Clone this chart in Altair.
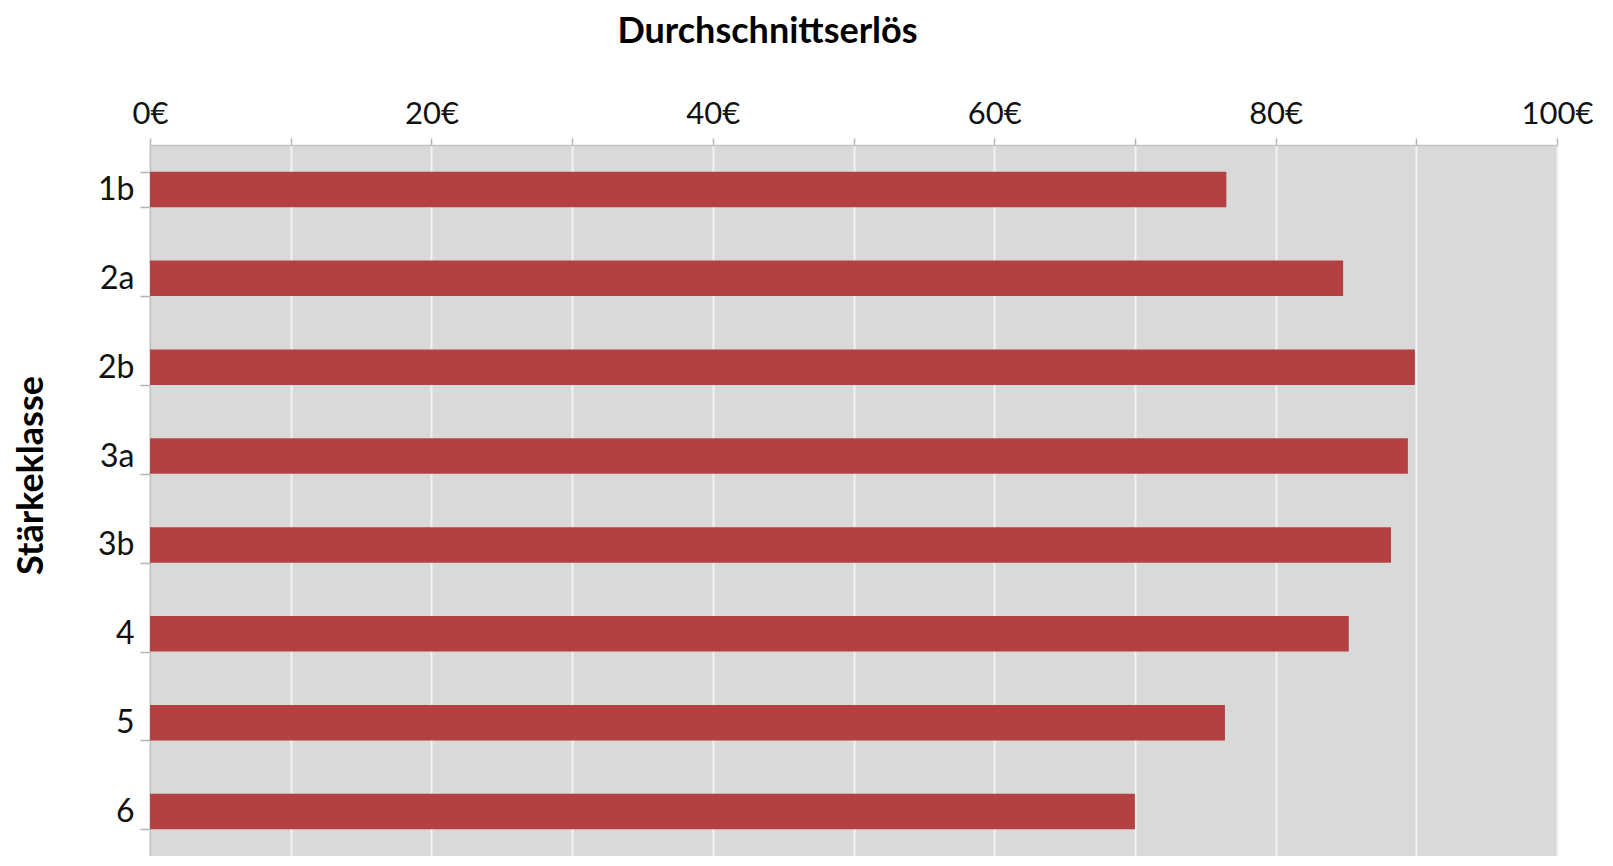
import altair as alt
import pandas as pd

categories = ["1b", "2a", "2b", "3a", "3b", "4", "5", "6"]
values = [76.5, 84.8, 89.9, 89.4, 88.2, 85.2, 76.4, 70.0]
tick_values = [0, 10, 20, 30, 40, 50, 60, 70, 80, 90, 100]

df = pd.DataFrame({"klasse": categories, "erloes": values})

FONT = "Lato"

chart = (
    alt.Chart(df)
    .mark_bar(color="#b44041")
    .encode(
        x=alt.X(
            "erloes:Q",
            scale=alt.Scale(domain=[0, 100], nice=False, zero=True),
            axis=alt.Axis(
                orient="top",
                title="Durchschnittserlös",
                values=tick_values,
                labelExpr="datum.value % 20 === 0 ? datum.value + '€' : ''",
                labelOverlap=False,
                labelFlush=False,
                labelBound=False,
                labelFont=FONT,
                labelFontSize=31,
                labelColor="#111111",
                labelBaseline="alphabetic",
                labelPadding=15,
                tickSize=7,
                tickColor="#b5b5b5",
                tickWidth=1.5,
                domainColor="#c4c4c4",
                domainWidth=1.5,
                grid=True,
                gridColor="#f2f2f2",
                gridWidth=2,
                titleFont=FONT,
                titleFontSize=36,
                titleFontWeight="bold",
                titleColor="#000000",
                titleBaseline="alphabetic",
                titleAnchor="middle",
                titleX=617,
                titleY=-103,
            ),
        ),
        y=alt.Y(
            "klasse:N",
            sort=categories,
            scale=alt.Scale(paddingInner=0.6, paddingOuter=0.3),
            axis=alt.Axis(
                title="Stärkeklasse",
                tickBand="extent",
                tickSize=10,
                tickColor="#b5b5b5",
                tickWidth=1.5,
                domainColor="#c4c4c4",
                domainWidth=2,
                labelFont=FONT,
                labelFontSize=32,
                labelColor="#111111",
                labelPadding=6,
                grid=False,
                titleFont=FONT,
                titleFontSize=36,
                titleFontWeight="bold",
                titleColor="#000000",
                titleAngle=-90,
                titleBaseline="middle",
                titleAlign="center",
                titleX=-119,
                titleY=330,
            ),
        ),
    )
    .properties(
        width=1407,
        height=711,
        padding={"left": 5, "top": 5, "right": 5, "bottom": 0},
        background="#ffffff",
    )
    .configure_view(fill="#d9d9d9", strokeWidth=0)
)

chart.save("out.html", embed_options={"renderer": "svg", "actions": False})
